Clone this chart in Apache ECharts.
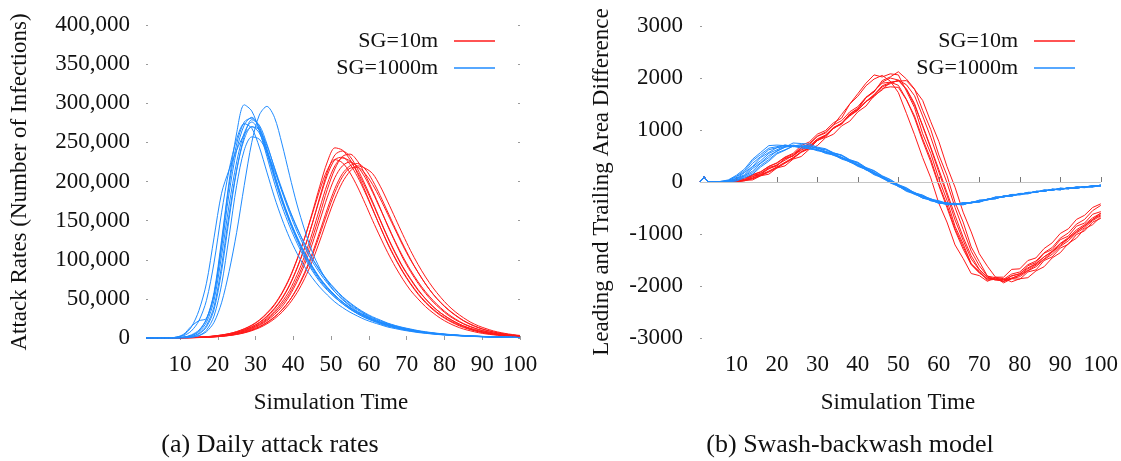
<!DOCTYPE html>
<html>
<head>
<meta charset="utf-8">
<script src="https://cdn.jsdelivr.net/npm/echarts@6/dist/echarts.min.js"></script>
<style>
  html, body { margin: 0; padding: 0; background: #fff; }
  #chart { width: 1121px; height: 461px; }
</style>
</head>
<body>
<div id="chart"></div>
<script>
// ---- (a) Daily attack rates: infections per simulated day, one row per run ----
const attackDays = [1,3,5,7,9,11,13,15,17,19, 21,23,25,27,29,31,33,35,37,39, 41,43,45,47,49,51,53,55,57,59, 61,63,65,67,69,71,73,75,77,79, 81,83,85,87,89,91,93,95,97,99, 100];
const timeTicks = [10,20,30,40,50,60,70,80,90,100];
const attackTicks = [0,50000,100000,150000,200000,250000,300000,350000,400000];

const attack10m = [
  [0,0,0,0,0,0.3e3,0.6e3,1e3,1.6e3,2.5e3, 3.8e3,5.5e3,8e3,11.5e3,16e3,22.5e3,31e3,42e3,57e3,76e3, 100e3,128e3,160e3,194e3,225e3,243e3,240e3,228e3,210e3,188e3, 165e3,142e3,120e3,101e3,84e3,69e3,56e3,45e3,36e3,28.5e3, 22.5e3,17.5e3,13.5e3,10.5e3,8e3,6e3,4.6e3,3.5e3,2.6e3,2e3, 1.7e3],
  [0,0,0,0,0,0.3e3,0.5e3,0.9e3,1.4e3,2.2e3, 3.3e3,4.8e3,7e3,10e3,14e3,19.5e3,27e3,37e3,50e3,67e3, 89e3,115e3,146e3,180e3,212e3,234e3,239e3,232e3,216e3,196e3, 174e3,151e3,129e3,109e3,91e3,76e3,62e3,50e3,40e3,32e3, 25.5e3,20e3,15.5e3,12e3,9.2e3,7e3,5.3e3,4e3,3e3,2.3e3, 2e3],
  [0,0,0,0,0,0.3e3,0.5e3,0.9e3,1.5e3,2.3e3, 3.5e3,5e3,7.3e3,10.5e3,14.5e3,20e3,28e3,38e3,51e3,68e3, 90e3,116e3,146e3,178e3,208e3,228e3,231e3,222e3,206e3,186e3, 164e3,142e3,121e3,102e3,85e3,70e3,57e3,46e3,37e3,29.5e3, 23.5e3,18.5e3,14.5e3,11e3,8.5e3,6.4e3,4.9e3,3.7e3,2.8e3,2.1e3, 1.8e3],
  [0,0,0,0,0,0.2e3,0.4e3,0.8e3,1.3e3,2e3, 3e3,4.4e3,6.4e3,9.2e3,13e3,18e3,25e3,34e3,46e3,61e3, 81e3,105e3,134e3,166e3,197e3,220e3,230e3,226e3,212e3,193e3, 172e3,150e3,128e3,108e3,90e3,75e3,61e3,50e3,40e3,32e3, 25.5e3,20e3,15.5e3,12e3,9.2e3,7e3,5.3e3,4e3,3e3,2.3e3, 2e3],
  [0,0,0,0,0,0.2e3,0.4e3,0.7e3,1.1e3,1.7e3, 2.6e3,3.8e3,5.5e3,8e3,11.3e3,16e3,22e3,30e3,40e3,54e3, 72e3,94e3,120e3,150e3,180e3,205e3,220e3,225e3,219e3,205e3, 186e3,165e3,144e3,123e3,104e3,87e3,72e3,59e3,48e3,38.5e3, 30.5e3,24e3,18.5e3,14.5e3,11e3,8.4e3,6.4e3,4.8e3,3.6e3,2.7e3, 2.3e3],
  [0,0,0,0,0,0.2e3,0.3e3,0.6e3,1e3,1.5e3, 2.3e3,3.4e3,5e3,7.2e3,10.2e3,14.5e3,20e3,27e3,36e3,48e3, 64e3,84e3,108e3,136e3,165e3,191e3,210e3,220e3,223e3,216e3, 201e3,182e3,161e3,140e3,120e3,101e3,84e3,69e3,56e3,45e3, 36e3,28.5e3,22e3,17e3,13e3,10e3,7.6e3,5.7e3,4.3e3,3.2e3, 2.8e3],
  [0,0,0,0,0,0.2e3,0.3e3,0.5e3,0.9e3,1.4e3, 2.1e3,3.1e3,4.5e3,6.5e3,9.3e3,13e3,18e3,24.5e3,33e3,44e3, 58e3,76e3,98e3,124e3,152e3,178e3,199e3,213e3,220e3,217e3, 210e3,194e3,174e3,153e3,132e3,112e3,94e3,78e3,64e3,52e3, 41.5e3,33e3,26e3,20e3,15.5e3,12e3,9e3,6.8e3,5.1e3,3.8e3, 3.3e3],
  [0,0,0,0,0,0.3e3,0.6e3,1e3,1.7e3,2.6e3, 3.9e3,5.6e3,8.2e3,11.8e3,16.5e3,23e3,32e3,43e3,58e3,77e3, 101e3,128e3,158e3,189e3,215e3,228e3,224e3,211e3,193e3,172e3, 150e3,129e3,109e3,91e3,75e3,61e3,50e3,40e3,32e3,25e3, 19.5e3,15e3,11.5e3,9e3,6.8e3,5.2e3,4e3,3e3,2.3e3,1.8e3, 1.5e3],
  [0,0,0,0,0,0.2e3,0.4e3,0.8e3,1.2e3,1.9e3, 2.8e3,4.1e3,6e3,8.6e3,12.2e3,17e3,23.5e3,32e3,43e3,57e3, 76e3,99e3,127e3,158e3,190e3,216e3,232e3,235e3,226e3,209e3, 188e3,166e3,143e3,122e3,102e3,85e3,70e3,57e3,46e3,37e3, 29e3,23e3,18e3,14e3,10.8e3,8.2e3,6.2e3,4.7e3,3.5e3,2.6e3, 2.3e3],
  [0,0,0,0,0,0.2e3,0.3e3,0.6e3,1e3,1.5e3, 2.2e3,3.3e3,4.8e3,7e3,10e3,14e3,19.5e3,26.5e3,36e3,48e3, 63e3,82e3,105e3,132e3,160e3,186e3,206e3,217e3,218e3,210e3, 196e3,178e3,158e3,138e3,118e3,100e3,84e3,69e3,56e3,45.5e3, 36.5e3,29e3,22.5e3,17.5e3,13.5e3,10.2e3,7.8e3,5.9e3,4.4e3,3.3e3, 2.9e3]
];

const attack1000m = [
  [0,0,0,0,0,1e3,3e3,9e3,24e3,58e3, 125e3,200e3,262e3,298e3,290e3,265e3,232e3,198e3,168e3,143e3, 121e3,102e3,86e3,72e3,61e3,52e3,44e3,37e3,31e3,26e3, 22e3,19e3,16e3,13e3,11e3,9e3,8e3,6.5e3,5.5e3,4.6e3, 3.9e3,3.3e3,2.8e3,2.3e3,1.9e3,1.6e3,1.3e3,1.1e3,0.9e3,0.7e3, 0.6e3],
  [0,0,0,0,1e3,4e3,14e3,35e3,70e3,128e3, 185e3,215e3,240e3,260e3,270e3,262e3,236e3,204e3,174e3,148e3, 125e3,105e3,88e3,74e3,62e3,52e3,44e3,37e3,31e3,26e3, 22e3,18e3,15e3,13e3,11e3,9e3,7.5e3,6.3e3,5.3e3,4.4e3, 3.7e3,3.1e3,2.6e3,2.2e3,1.8e3,1.5e3,1.2e3,1e3,0.8e3,0.6e3, 0.5e3],
  [0,0,0,0,1e3,5e3,15e3,22e3,25e3,55e3, 120e3,195e3,248e3,276e3,281e3,268e3,240e3,208e3,177e3,151e3, 128e3,108e3,91e3,76e3,64e3,54e3,46e3,38e3,32e3,27e3, 23e3,19e3,16e3,14e3,11.5e3,9.5e3,8e3,6.8e3,5.7e3,4.8e3, 4e3,3.4e3,2.8e3,2.3e3,1.9e3,1.6e3,1.3e3,1.1e3,0.9e3,0.7e3, 0.6e3],
  [0,0,0,0,0,1e3,4e3,10e3,24e3,55e3, 115e3,185e3,240e3,272e3,282e3,270e3,242e3,210e3,179e3,152e3, 129e3,109e3,92e3,77e3,65e3,55e3,46e3,39e3,33e3,28e3, 23e3,20e3,17e3,14e3,12e3,10e3,8.2e3,6.9e3,5.8e3,4.9e3, 4.1e3,3.5e3,2.9e3,2.4e3,2e3,1.7e3,1.4e3,1.1e3,0.9e3,0.7e3, 0.6e3],
  [0,0,0,0,0,1e3,3e3,8e3,20e3,48e3, 105e3,170e3,225e3,262e3,276e3,265e3,238e3,206e3,176e3,150e3, 127e3,107e3,90e3,76e3,64e3,54e3,46e3,39e3,33e3,28e3, 24e3,20e3,17e3,14.5e3,12e3,10e3,8.5e3,7e3,6e3,5e3, 4.3e3,3.6e3,3e3,2.5e3,2.1e3,1.7e3,1.4e3,1.1e3,0.9e3,0.7e3, 0.6e3],
  [0,0,0,0,0,1e3,2e3,6e3,16e3,40e3, 92e3,158e3,215e3,254e3,270e3,266e3,246e3,218e3,190e3,164e3, 141e3,120e3,102e3,86e3,73e3,62e3,52e3,44e3,37e3,31e3, 26e3,22e3,18.5e3,15.5e3,13e3,11e3,9e3,7.5e3,6.3e3,5.3e3, 4.4e3,3.7e3,3.1e3,2.6e3,2.2e3,1.8e3,1.5e3,1.2e3,1e3,0.8e3, 0.6e3],
  [0,0,0,0,0,0,1e3,3e3,10e3,28e3, 68e3,130e3,195e3,240e3,257e3,254e3,238e3,214e3,188e3,163e3, 140e3,120e3,102e3,87e3,74e3,63e3,53e3,45e3,38e3,32e3, 27e3,23e3,19e3,16e3,13.5e3,11.5e3,9.5e3,8e3,6.7e3,5.6e3, 4.7e3,3.9e3,3.3e3,2.7e3,2.3e3,1.9e3,1.6e3,1.3e3,1e3,0.8e3, 0.7e3],
  [0,0,0,0,0,0,1e3,3e3,8e3,20e3, 45e3,85e3,135e3,195e3,250e3,285e3,296e3,282e3,248e3,208e3, 170e3,138e3,110e3,89e3,72e3,59e3,49e3,41e3,34e3,29e3, 24e3,20e3,17e3,14.5e3,12e3,10e3,8.5e3,7e3,6e3,5e3, 4.2e3,3.5e3,2.9e3,2.4e3,2e3,1.7e3,1.4e3,1.1e3,0.9e3,0.7e3, 0.6e3],
  [0,0,0,0,1e3,3e3,9e3,22e3,48e3,96e3, 160e3,215e3,254e3,274e3,268e3,244e3,212e3,180e3,152e3,128e3, 108e3,91e3,77e3,65e3,55e3,46e3,39e3,33e3,28e3,23.5e3, 20e3,17e3,14e3,12e3,10e3,8.5e3,7e3,6e3,5e3,4.2e3, 3.5e3,3e3,2.5e3,2.1e3,1.7e3,1.4e3,1.2e3,1e3,0.8e3,0.6e3, 0.5e3],
  [0,0,0,0,0,1e3,2e3,5e3,14e3,36e3, 85e3,152e3,214e3,258e3,279e3,272e3,248e3,217e3,187e3,160e3, 136e3,116e3,98e3,83e3,70e3,59e3,50e3,42e3,36e3,30e3, 25e3,21e3,18e3,15e3,12.5e3,10.5e3,8.8e3,7.3e3,6.1e3,5.1e3, 4.3e3,3.6e3,3e3,2.5e3,2.1e3,1.7e3,1.4e3,1.1e3,0.9e3,0.7e3, 0.6e3]
];

// ---- (b) Swash-backwash model: leading minus trailing area, one row per run ----
const swashDays = [1,2,3,4, 6,8,10,12,14,16,18,20,22,24, 26,28,30,32,34,36,38,40,42,44, 46,48,50,52,54,56,58,60,62,64, 66,68,70,72,74,76,78,80,82,84, 86,88,90,92,94,96,98,100];
const swashTicks = [-3000,-2000,-1000,0,1000,2000,3000];

const swash10m = [
  [0,100,0,0, 0,10,30,50,140,190,300,370,480,550, 700,770,920,990,1140,1230,1500,1650,1850,1980, 2050,1940,1720,1320,910,470,80,-410,-770,-1210, -1470,-1760,-1800,-1910,-1830,-1830,-1680,-1670,-1510,-1460, -1280,-1170,-990,-900,-720,-640,-490,-420],
  [0,100,0,0, 10,0,40,70,140,200,300,360,470,530, 660,740,880,960,1100,1180,1350,1450,1630,1750, 1900,1920,1860,1590,1230,790,390,-70,-490,-930, -1290,-1590,-1750,-1860,-1870,-1880,-1810,-1760,-1650,-1570, -1440,-1340,-1190,-1090,-950,-850,-720,-630],
  [0,100,0,0, 0,0,20,30,110,140,260,310,450,500, 660,720,880,940,1100,1300,1500,1700,1900,2060, 2020,2080,2060,1750,1430,930,550,60,-350,-850, -1190,-1570,-1720,-1890,-1870,-1910,-1800,-1770,-1610,-1550, -1370,-1300,-1110,-1040,-850,-790,-620,-570],
  [0,100,0,0, 0,0,20,20,80,140,210,290,380,470, 580,670,800,890,1030,1130,1280,1390,1550,1680, 1850,1910,1950,1790,1510,1070,650,190,-250,-730, -1120,-1480,-1690,-1840,-1870,-1910,-1850,-1790,-1670,-1580, -1440,-1330,-1180,-1070,-920,-820,-690,-600],
  [0,100,0,0, 0,0,20,30,100,170,250,330,420,510, 610,690,810,900,1030,1130,1270,1380,1540,1670, 1830,1890,1960,1870,1660,1270,860,410,-10,-490, -910,-1330,-1610,-1810,-1870,-1910,-1860,-1820,-1710,-1630, -1490,-1390,-1240,-1130,-980,-880,-740,-650],
  [0,100,0,0, 0,0,0,30,60,120,190,270,360,450, 570,640,800,860,1040,1110,1310,1400,1620,1730, 1950,2020,2120,1980,1790,1380,1010,520,130,-390, -770,-1250,-1530,-1810,-1840,-1940,-1860,-1870,-1730,-1690, -1510,-1440,-1270,-1200,-1010,-940,-770,-700],
  [0,100,0,0, 0,0,0,30,40,120,150,270,310,440, 490,630,700,850,920,1080,1170,1350,1460,1660, 1770,1920,1940,1950,1780,1570,1160,780,300,-100, -580,-960,-1380,-1620,-1830,-1860,-1920,-1860,-1840,-1710, -1630,-1460,-1360,-1180,-1080,-900,-820,-670],
  [0,100,0,0, 0,0,30,40,130,160,280,320,450,500, 630,690,830,900,1050,1130,1290,1380,1550,1640, 1800,1830,1820,1580,1270,830,440,-40,-440,-900, -1240,-1580,-1740,-1870,-1850,-1870,-1770,-1730,-1590,-1520, -1360,-1260,-1080,-980,-810,-720,-550,-450],
  [0,100,0,0, 0,0,10,40,70,130,200,280,370,460, 580,650,800,880,1040,1130,1310,1420,1620,1750, 1920,2000,1960,1780,1480,1090,670,240,-200,-640, -1060,-1420,-1680,-1830,-1890,-1880,-1850,-1790,-1700,-1600, -1480,-1350,-1220,-1090,-960,-840,-720,-600]
];

const swash1000m = [
  [0,100,0,0, 10,40,130,250,440,570,700,710,700,690, 650,650,600,580,510,470,380,330,230,170, 70,10,-90,-150,-240,-280,-360,-380,-430,-420, -430,-390,-380,-330,-320,-270,-270,-230,-220,-180, -180,-140,-150,-110,-120,-90,-100,-60],
  [0,100,0,0, 0,30,110,220,410,530,650,680,710,680, 680,640,630,570,540,460,410,320,260,160, 100,0,-60,-160,-210,-300,-330,-400,-400,-440, -400,-400,-360,-340,-290,-290,-240,-240,-200,-200, -160,-160,-120,-130,-100,-100,-70,-80],
  [0,100,0,0, 0,20,70,180,300,470,570,660,680,710, 680,670,610,590,520,480,390,340,240,180, 80,20,-70,-130,-220,-270,-350,-370,-420,-410, -430,-390,-380,-330,-320,-270,-270,-220,-220,-180, -180,-140,-140,-110,-120,-90,-90,-60],
  [0,100,0,0, 0,10,60,120,260,370,510,590,670,690, 720,680,660,590,550,470,420,330,270,170, 110,10,-50,-150,-200,-280,-320,-390,-400,-430, -400,-400,-350,-340,-290,-280,-240,-240,-200,-200, -160,-160,-120,-130,-100,-100,-70,-80],
  [0,100,0,0, 0,10,40,120,210,360,470,600,670,750, 740,730,670,640,560,510,420,360,260,190, 90,20,-80,-140,-230,-280,-360,-390,-440,-430, -440,-390,-380,-330,-320,-270,-260,-220,-220,-180, -180,-140,-140,-110,-120,-90,-90,-60],
  [0,100,0,0, 0,10,30,100,180,320,430,560,620,690, 680,690,640,620,550,510,420,370,270,210, 110,40,-60,-120,-210,-260,-340,-370,-420,-420, -430,-390,-380,-330,-320,-270,-270,-230,-220,-180, -180,-140,-150,-110,-120,-90,-90,-60],
  [0,100,0,0, 0,20,70,140,290,410,550,620,690,680, 690,640,620,560,530,450,400,310,250,150, 90,-10,-70,-170,-220,-310,-340,-410,-410,-430, -400,-400,-350,-340,-290,-290,-240,-240,-200,-200, -150,-160,-120,-130,-90,-100,-70,-70],
  [0,100,0,0, 0,0,20,80,150,290,400,540,610,690, 690,700,650,630,560,520,430,380,280,220, 120,50,-50,-110,-210,-250,-330,-360,-410,-410, -430,-390,-390,-340,-320,-280,-270,-230,-230,-180, -180,-140,-150,-110,-120,-90,-90,-60],
  [0,100,0,0, 10,30,100,190,360,490,620,660,710,690, 690,640,620,550,520,440,390,300,240,140, 80,-20,-80,-180,-230,-310,-350,-410,-420,-440, -410,-410,-360,-350,-300,-290,-250,-250,-210,-200, -160,-160,-130,-130,-100,-110,-80,-80]
];

const RED = '#ff1a1a';
const BLUE = '#1f8bff';
const FONT = '"Liberation Serif", "Times New Roman", serif';
const INK = '#111';

function runSeries(runs, days, name, color, axisIdx, smooth) {
  return runs.map(run => ({
    type: 'line',
    name: name,
    xAxisIndex: axisIdx,
    yAxisIndex: axisIdx,
    data: run.map((v, i) => [days[i], v]),
    symbol: 'none',
    showSymbol: false,
    smooth: smooth,
    silent: true,
    lineStyle: { color: color, width: 1 },
    itemStyle: { color: color }
  }));
}

// panel (a) uses axes 0, panel (b) uses axes 2; axes 1 are the mirrored tick rows of panel (a)
const series = [].concat(
  runSeries(attack10m, attackDays, 'SG=10m', RED, 0, 0.3),
  runSeries(attack1000m, attackDays, 'SG=1000m', BLUE, 0, 0.3),
  runSeries(swash10m, swashDays, 'SG=10m', RED, 2, false),
  runSeries(swash1000m, swashDays, 'SG=1000m', BLUE, 2, false)
);

// gray zero reference line under the runs of panel (b)
series[attack10m.length + attack1000m.length].markLine = {
  silent: true,
  symbol: 'none',
  label: { show: false },
  lineStyle: { color: '#c4c4c4', width: 1, type: 'solid' },
  data: [{ yAxis: 0 }]
};

const labelStyle = { fontFamily: FONT, fontSize: 23, color: INK };
const dotTick = { show: true, inside: true, length: 2, lineStyle: { color: '#9a9a9a', width: 1 } };

function xAxisFor(gridIndex, position, showLabels, tick) {
  return {
    type: 'value', gridIndex: gridIndex, position: position, min: 1, max: 100,
    axisLine: { show: false }, splitLine: { show: false },
    axisTick: Object.assign({ customValues: timeTicks }, tick),
    axisLabel: Object.assign({ show: showLabels, customValues: timeTicks, margin: 15 }, labelStyle)
  };
}

function legendFor(right) {
  return {
    data: ['SG=10m', 'SG=1000m'],
    orient: 'vertical',
    right: right,
    top: 30,
    padding: 0,
    align: 'right',
    icon: 'rect',
    itemWidth: 41,
    itemHeight: 1.5,
    itemGap: 5,
    selectedMode: false,
    textStyle: { fontFamily: FONT, fontSize: 22, color: INK, lineHeight: 22, padding: [0, 11, 0, 0] }
  };
}

function text(str, x, y, size, rotated) {
  return {
    type: 'text', x: x, y: y, rotation: rotated ? Math.PI / 2 : 0, silent: true,
    style: { text: str, font: size + 'px ' + FONT, fill: INK, align: 'center', verticalAlign: 'middle' }
  };
}

const option = {
  animation: false,
  backgroundColor: '#fff',
  grid: [
    { left: 146, top: 25, width: 374, height: 313 },
    { left: 700, top: 26, width: 401, height: 312 }
  ],
  xAxis: [
    xAxisFor(0, 'bottom', true, dotTick),
    xAxisFor(0, 'top', false, dotTick),
    xAxisFor(1, 'bottom', true, { show: true, inside: true, length: 5, lineStyle: { color: '#777', width: 1 } })
  ],
  yAxis: [
    {
      type: 'value', gridIndex: 0, min: 0, max: 400000,
      axisLine: { show: false }, splitLine: { show: false },
      axisTick: Object.assign({ customValues: attackTicks }, dotTick),
      axisLabel: Object.assign({ customValues: attackTicks, margin: 16,
        formatter: v => v.toLocaleString('en-US') }, labelStyle)
    },
    {
      type: 'value', gridIndex: 0, position: 'right', min: 0, max: 400000,
      axisLine: { show: false }, splitLine: { show: false },
      axisTick: Object.assign({ customValues: attackTicks }, dotTick),
      axisLabel: { show: false }
    },
    {
      type: 'value', gridIndex: 1, min: -3000, max: 3000,
      axisLine: { show: false }, splitLine: { show: false },
      axisTick: Object.assign({ customValues: swashTicks }, dotTick),
      axisLabel: Object.assign({ customValues: swashTicks, margin: 17,
        formatter: v => String(v) }, labelStyle)
    }
  ],
  legend: [legendFor(626), legendFor(46)],
  graphic: [
    text('Attack Rates (Number of Infections)', 20, 182, 23, true),
    text('Leading and Trailing Area Difference', 602, 182, 23, true),
    text('Simulation Time', 331, 403, 23, false),
    text('Simulation Time', 898, 403, 23, false),
    text('(a) Daily attack rates', 270, 445, 26, false),
    text('(b) Swash-backwash model', 850, 445, 26, false)
  ],
  series: series
};

const chart = echarts.init(document.getElementById('chart'), null, { renderer: 'canvas' });
chart.setOption(option);
</script>
</body>
</html>
